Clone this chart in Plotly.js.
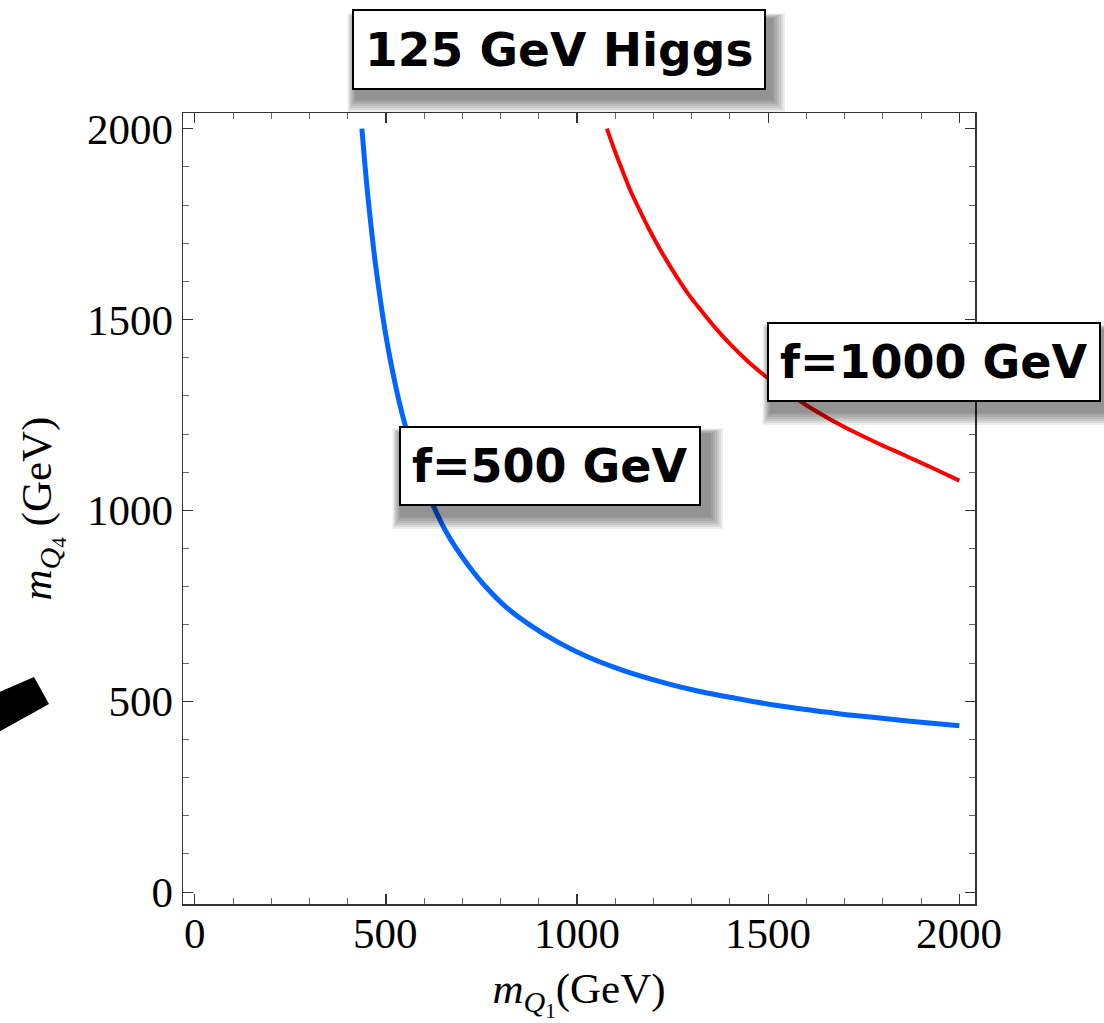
<!DOCTYPE html>
<html>
<head>
<meta charset="utf-8">
<script src="https://cdn.plot.ly/plotly-3.0.1.min.js"></script>
<style>html,body{margin:0;padding:0;background:#fff;}#chart{width:1104px;height:1023px;}</style>
</head>
<body>
<div id="chart"></div>
<script>
// Data
const blueX = [437, 445, 453, 462, 471, 482, 493, 505, 519, 534, 550, 570, 590, 610, 629, 655, 683, 720, 761, 815, 878, 950, 1024, 1120, 1219, 1315, 1414, 1510, 1609, 1705, 1804, 1900, 2000];
const blueY = [2000, 1905, 1820, 1735, 1657, 1575, 1500, 1428, 1356, 1287, 1224, 1157, 1096, 1045, 1001, 948, 902, 850, 800, 746, 699, 655, 618, 581, 551, 527, 508, 491, 477, 465, 455, 445, 436];
const redX = [1078, 1100, 1121, 1142, 1164, 1186, 1208, 1234, 1260, 1290, 1321, 1360, 1400, 1445, 1492, 1545, 1601, 1665, 1732, 1795, 1862, 1930, 2000];
const redY = [2000, 1938, 1884, 1832, 1786, 1741, 1700, 1655, 1613, 1568, 1528, 1480, 1436, 1392, 1352, 1311, 1275, 1237, 1202, 1172, 1142, 1111, 1078];
const tickVals = [0, 500, 1000, 1500, 2000];
const tickText = ['0', '500', '1000', '1500', '2000'];
const titleText = '125 GeV Higgs';
const label500 = 'f=500 GeV';
const label1000 = 'f=1000 GeV';

// page geometry (pixels) for plot area
const W = 1104, H = 1023;
const L = 183, R = 975, T = 113, B = 904;
function px(x) { return (x - L) / (R - L); }
function py(y) { return (B - y) / (B - T); }

function shadowRects(x0, y0, x1, y1) {
  const out = [];
  const n = 7;
  for (let i = 1; i <= n; i++) {
    const s = i * 2;
    out.push({
      type: 'rect', xref: 'paper', yref: 'paper', layer: 'above',
      x0: px(x0 + 4 - s * 0.6), x1: px(x1 + 6 + s),
      y0: py(y1 + 8 + s), y1: py(y0 + 10 - s * 0.4),
      fillcolor: 'rgba(0,0,0,0.075)', line: {width: 0}
    });
  }
  return out;
}

const tickFont = {family: 'Liberation Serif', size: 43, color: '#000'};

const axisCommon = {
  range: [-31, 2041],
  tickvals: tickVals,
  ticktext: tickText,
  ticks: 'inside',
  ticklen: 10,
  tickwidth: 1.2,
  tickcolor: '#333',
  showline: true,
  linecolor: '#333',
  linewidth: 1.5,
  mirror: 'allticks',
  showgrid: false,
  zeroline: false,
  tickfont: tickFont,
  minor: {dtick: 100, tick0: 0, ticks: 'inside', ticklen: 6, tickwidth: 1, tickcolor: '#666', showgrid: false}
};

const data = [
  {x: blueX, y: blueY, type: 'scatter', mode: 'lines', line: {color: '#0066ff', width: 5, shape: 'spline', smoothing: 0.8}, hoverinfo: 'skip'},
  {x: redX, y: redY, type: 'scatter', mode: 'lines', line: {color: '#ff0000', width: 4, shape: 'spline', smoothing: 0.8}, hoverinfo: 'skip'}
];

const boxFont = {family: 'DejaVu Sans', size: 46, color: '#000', weight: 'bold'};

// x tick labels placed as annotations so they sit closer to the axis
const xTickAnns = tickVals.map((v, i) => ({
  text: tickText[i], xref: 'x', yref: 'paper', x: v, y: py(933), xanchor: 'center', yanchor: 'middle',
  showarrow: false, font: tickFont
}));

const layout = {
  width: W, height: H,
  margin: {l: L, r: W - R, t: T, b: H - B},
  paper_bgcolor: '#fff', plot_bgcolor: '#fff',
  showlegend: false,
  xaxis: Object.assign({}, axisCommon, {
    showticklabels: false,
    title: {text: '<i>m</i><sub><i>Q</i><sub>1</sub></sub>(GeV)', font: {family: 'Liberation Serif', size: 43, color: '#000'}, standoff: 68}
  }),
  yaxis: Object.assign({}, axisCommon, {
    title: {text: '<i>m</i><sub><i>Q</i><sub>4</sub></sub> (GeV)', font: {family: 'Liberation Serif', size: 43, color: '#000'}, standoff: 22}
  }),
  shapes: [].concat(
    shadowRects(352, 9, 765, 90),
    shadowRects(397, 424, 703, 507),
    shadowRects(767, 320, 1103, 403),
    [{
      type: 'path', xref: 'paper', yref: 'paper', layer: 'above',
      path: 'M ' + px(-5) + ' ' + py(694) + ' L ' + px(34) + ' ' + py(677) + ' L ' + px(49) + ' ' + py(704) + ' L ' + px(-5) + ' ' + py(734) + ' Z',
      fillcolor: '#000', line: {width: 0}
    }]
  ),
  annotations: xTickAnns.concat([
    {text: titleText, xref: 'paper', yref: 'paper', x: px(558.5), y: py(49.5), xanchor: 'center', yanchor: 'middle',
     showarrow: false, font: {family: 'DejaVu Sans', size: 47, color: '#000', weight: 'bold'}, bgcolor: '#fff', bordercolor: '#000', borderwidth: 2, borderpad: 11},
    {text: label500, xref: 'paper', yref: 'paper', x: px(550), y: py(465.5), xanchor: 'center', yanchor: 'middle',
     showarrow: false, font: boxFont, bgcolor: '#fff', bordercolor: '#000', borderwidth: 2, borderpad: 11},
    {text: label1000, xref: 'paper', yref: 'paper', x: px(767), y: py(361.5), xanchor: 'left', yanchor: 'middle',
     showarrow: false, font: boxFont, bgcolor: '#fff', bordercolor: '#000', borderwidth: 2, borderpad: 11}
  ])
};

Plotly.newPlot('chart', data, layout, {displayModeBar: false, staticPlot: true});
</script>
</body>
</html>
